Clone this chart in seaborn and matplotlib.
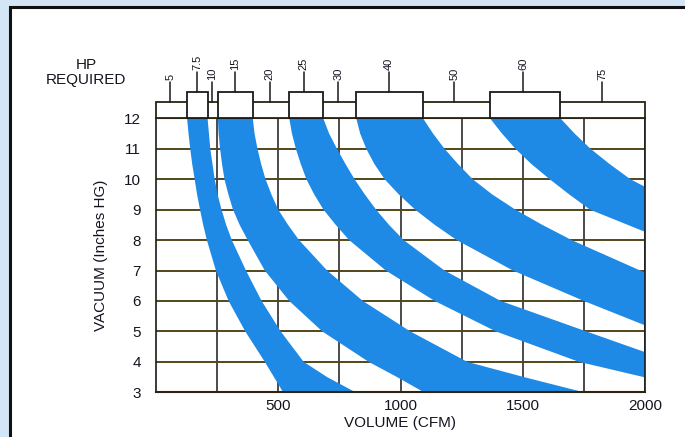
import numpy as np
import pandas as pd
import seaborn as sns
import matplotlib.pyplot as plt
from matplotlib.patches import Rectangle

# HP scale printed along the top of the chart
hp_labels = ['5', '7.5', '10', '15', '20', '25', '30', '40', '50', '60', '75']
hp_cfm = [59, 169, 230, 323, 466, 605, 746, 953, 1220, 1501, 1825]
band_hp = ['7.5', '15', '25', '40', '60']

# band edges: lower-left edge (lo) and upper-right edge (up)
b1_lo_x = [127, 133, 140, 148, 158, 168, 180, 193, 208, 245, 297, 365, 445, 520]
b1_lo_y = [12, 11.5, 11, 10.5, 10, 9.5, 9, 8.5, 8, 7, 6, 5, 4, 3]
b1_up_x = [211, 222, 240, 252, 268, 287, 310, 368, 432, 510, 604, 700, 816]
b1_up_y = [12, 11, 10, 9.5, 9, 8.5, 8, 7, 6, 5, 4, 3.5, 3]

b2_lo_x = [253, 256, 262, 270, 280, 296, 315, 342, 375, 445, 545, 680, 870, 986, 1096]
b2_lo_y = [12, 11.5, 11, 10.5, 10, 9.5, 9, 8.5, 8, 7, 6, 5, 4, 3.5, 3]
b2_up_x = [396, 403, 415, 430, 448, 472, 500, 540, 585, 700, 846, 1040, 1273, 1505, 1750]
b2_up_y = [12, 11.5, 11, 10.5, 10, 9.5, 9, 8.5, 8, 7, 6, 5, 4, 3.5, 3]

b3_lo_x = [545, 556, 572, 592, 615, 647, 685, 735, 790, 940, 1140, 1390, 1730, 2000]
b3_lo_y = [12, 11.5, 11, 10.5, 10, 9.5, 9, 8.5, 8, 7, 6, 5, 4, 3.49]
b3_up_x = [684, 708, 740, 775, 812, 854, 900, 953, 1013, 1180, 1410, 1760, 2000]
b3_up_y = [12, 11.5, 11, 10.5, 10, 9.5, 9, 8.5, 8, 7, 6, 5, 4.32]

b4_lo_x = [819, 835, 860, 893, 935, 993, 1060, 1140, 1230, 1460, 1750, 2000]
b4_lo_y = [12, 11.5, 11, 10.5, 10, 9.5, 9, 8.5, 8, 7, 6, 5.2]
b4_up_x = [1092, 1133, 1180, 1235, 1295, 1375, 1470, 1580, 1700, 2000]
b4_up_y = [12, 11.5, 11, 10.5, 10, 9.5, 9, 8.5, 8, 6.93]

b5_lo_x = [1366, 1415, 1470, 1535, 1610, 1690, 1775, 2000]
b5_lo_y = [12, 11.5, 11, 10.5, 10, 9.5, 9, 8.27]
b5_up_x = [1654, 1712, 1777, 1855, 1940, 2000]
b5_up_y = [12, 11.5, 11, 10.5, 10, 9.75]

bands = [(b1_lo_x, b1_lo_y, b1_up_x, b1_up_y),
         (b2_lo_x, b2_lo_y, b2_up_x, b2_up_y),
         (b3_lo_x, b3_lo_y, b3_up_x, b3_up_y),
         (b4_lo_x, b4_lo_y, b4_up_x, b4_up_y),
         (b5_lo_x, b5_lo_y, b5_up_x, b5_up_y)]

x_ticks = [250, 500, 750, 1000, 1250, 1500, 1750, 2000]
x_ticklabels = ['', '500', '', '1000', '', '1500', '', '2000']
y_ticks = [3, 4, 5, 6, 7, 8, 9, 10, 11, 12]

sns.set_theme(style='white')
plt.rcParams['font.family'] = ['Liberation Sans', 'DejaVu Sans']

BLUE = '#1f8ae6'
INK = '#151520'
GOLD = '#54461a'

fig = plt.figure(figsize=(6.85, 4.37), dpi=100)
fig.patch.set_facecolor('#d3e5f6')
# white sheet with black frame at left/top (scan edge)
fig.add_artist(Rectangle((10 / 685, -0.1), 1.2, 1.1 - 7 / 437,
                         transform=fig.transFigure, facecolor='white',
                         edgecolor='#111111', lw=2.2, zorder=0))

ax = fig.add_axes([156 / 685, 1 - 392.3 / 437, 489 / 685, 274 / 437])
ax.set_facecolor('white')
ax.set_xlim(0, 2000)
ax.set_ylim(3, 12)

# bands
for lo_x, lo_y, up_x, up_y in bands:
    xs = list(lo_x) + list(up_x)[::-1]
    ys = list(lo_y) + list(up_y)[::-1]
    ax.fill(xs, ys, color=BLUE, lw=0, zorder=3)

# grid
ax.set_axisbelow(True)
ax.set_xticks(x_ticks)
ax.set_xticklabels(x_ticklabels)
ax.set_yticks(y_ticks)
ax.grid(axis='x', color='#1a1a1a', lw=1.1, zorder=1)
ax.grid(axis='y', color=GOLD, lw=1.4, zorder=1)
ax.tick_params(axis='both', length=0, labelsize=11, colors=INK)
ax.tick_params(axis='y', pad=11)
ax.tick_params(axis='x', pad=5)
for side in ['left', 'right']:
    ax.spines[side].set_color('#1a1a1a')
    ax.spines[side].set_linewidth(1.2)
for side in ['top', 'bottom']:
    ax.spines[side].set_color('#2a2410')
    ax.spines[side].set_linewidth(1.5)
for sp in ax.spines.values():
    sp.set_zorder(4)

ax.set_xlabel('VOLUME (CFM)', fontsize=11, color=INK, labelpad=2)
ax.set_ylabel('VACUUM (Inches HG)', fontsize=11, color=INK, labelpad=11)

# HP header: thin strip with taller boxes above each band
strip_h = 0.52
box_h = 0.86
ax.add_patch(Rectangle((0, 12), 2000, strip_h, facecolor='white',
                       edgecolor='#2a2410', lw=1.3, clip_on=False, zorder=5))
for lo_x, lo_y, up_x, up_y in bands:
    ax.add_patch(Rectangle((lo_x[0], 12), up_x[0] - lo_x[0], box_h,
                           facecolor='white', edgecolor='#1a1a1a', lw=1.3,
                           clip_on=False, zorder=6))

for lab, xc in zip(hp_labels, hp_cfm):
    base = 12 + (box_h if lab in band_hp else strip_h)
    ax.plot([xc, xc], [base, base + 0.66], color='#1a1a1a', lw=1.1,
            clip_on=False, zorder=6)
    ax.text(xc, base + 0.74, lab, rotation=90, ha='center', va='bottom',
            fontsize=8, color=INK, clip_on=False)

fig.text(86 / 685, 1 - 72.5 / 437, 'HP\nREQUIRED', ha='center', va='center',
         multialignment='center', fontsize=11, color=INK, linespacing=1.05)

fig.savefig('out.png', dpi=100, facecolor=fig.get_facecolor())
